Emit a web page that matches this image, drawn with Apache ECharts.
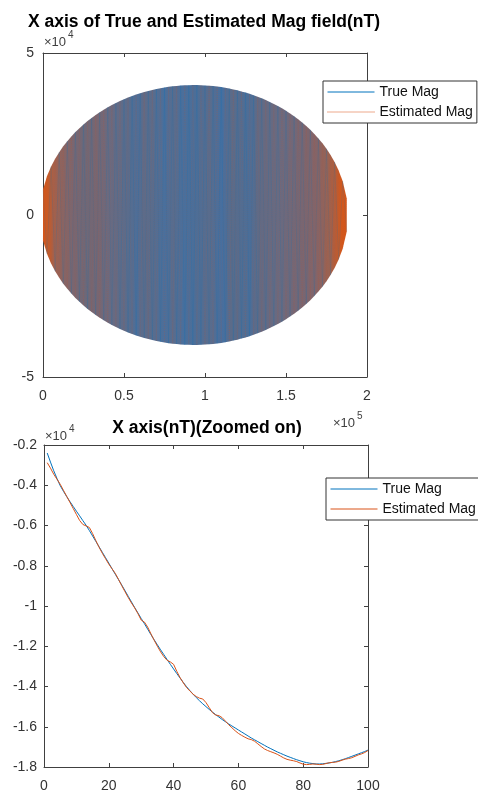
<!DOCTYPE html>
<html>
<head>
<meta charset="utf-8">
<script src="https://cdn.jsdelivr.net/npm/echarts@6/dist/echarts.min.js"></script>
<style>
  html, body { margin: 0; padding: 0; background: #ffffff; }
  #chart { width: 478px; height: 793px; }
</style>
</head>
<body>
<div id="chart"></div>
<script>
// ---- Full run: X component of the magnetic field (nT) ----
// Sample index at which the oscillation envelope was taken
const sampleIdx = [
  0, 2500, 5000, 7500, 10000, 12500, 15000, 17500, 20000, 22500,
  25000, 27500, 30000, 32500, 35000, 37500, 40000, 42500, 45000, 47500,
  50000, 52500, 55000, 57500, 60000, 62500, 65000, 67500, 70000, 72500,
  75000, 77500, 80000, 82500, 85000, 87500, 90000, 92500, 95000, 97500,
  100000, 102500, 105000, 107500, 110000, 112500, 115000, 117500, 120000, 122500,
  125000, 127500, 130000, 132500, 135000, 137500, 140000, 142500, 145000, 147500,
  150000, 152500, 155000, 157500, 160000, 162500, 165000, 167500, 170000, 172500,
  175000, 177500, 180000, 182500, 185000, 187500
];
// Peak amplitude of the X field swing at each sample (nT); the field swings +/- this value
const magEnvelope = [
  7900, 12000, 14950, 17350, 19400, 21190, 22800, 24260, 25590, 26810,
  27930, 28980, 29950, 30860, 31710, 32500, 33230, 33920, 34560, 35160,
  35720, 36240, 36720, 37160, 37570, 37950, 38300, 38610, 38890, 39140,
  39360, 39550, 39710, 39840, 39950, 40030, 40080, 40100, 40090, 40060,
  40000, 39910, 39790, 39640, 39470, 39270, 39030, 38770, 38470, 38150,
  37790, 37400, 36970, 36510, 36010, 35480, 34900, 34290, 33620, 32910,
  32160, 31340, 30470, 29540, 28530, 27450, 26280, 25010, 23630, 22110,
  20430, 18530, 16350, 13750, 10410, 5060
];

// ---- Zoomed run: first 100 samples (nT) ----
const trueMagZoom = [
  -2400, -2850, -3280, -3660, -4020, -4300, -4560, -4810, -5050, -5290,
  -5520, -5760, -5990, -6250, -6520, -6790, -7060, -7330, -7600, -7870,
  -8150, -8420, -8690, -8960, -9240, -9520, -9800, -10080, -10350, -10620,
  -10880, -11150, -11420, -11680, -11930, -12180, -12420, -12660, -12900, -13130,
  -13360, -13580, -13800, -14010, -14200, -14380, -14550, -14710, -14860, -15000,
  -15140, -15270, -15400, -15520, -15640, -15750, -15860, -15960, -16060, -16160,
  -16260, -16360, -16460, -16560, -16650, -16740, -16830, -16920, -17010, -17090,
  -17170, -17250, -17320, -17390, -17460, -17520, -17580, -17640, -17690, -17740,
  -17780, -17810, -17830, -17850, -17850, -17840, -17820, -17800, -17770, -17730,
  -17690, -17640, -17590, -17530, -17470, -17410, -17350, -17290, -17230, -17160
];
const estMagZoom = [
  -2880, -3150, -3450, -3700, -3950, -4250, -4550, -4850, -5150, -5450,
  -5750, -5950, -6020, -6100, -6400, -6750, -7080, -7380, -7650, -7920,
  -8150, -8380, -8680, -8990, -9290, -9580, -9850, -10100, -10380, -10700,
  -10800, -11050, -11380, -11700, -12000, -12280, -12520, -12700, -12780, -12900,
  -13250, -13560, -13820, -14050, -14220, -14380, -14500, -14580, -14620, -14800,
  -15050, -15300, -15420, -15450, -15550, -15720, -15900, -16050, -16200, -16330,
  -16430, -16520, -16600, -16640, -16720, -16850, -16980, -17100, -17180, -17240,
  -17300, -17370, -17460, -17550, -17620, -17660, -17690, -17730, -17800, -17860,
  -17880, -17870, -17850, -17860, -17880, -17870, -17830, -17790, -17770, -17760,
  -17720, -17660, -17610, -17580, -17540, -17470, -17400, -17350, -17280, -17180
];

const TRUE_COLOR = '#0072BD';
const EST_COLOR = '#D95319';
const FONT = '"Liberation Sans", Arial, Helvetica, sans-serif';
const AXIS_COLOR = '#404040';
const LABEL_COLOR = '#333333';

// Fast oscillation: alternate between the positive and negative peak of each envelope sample
const trueOsc = sampleIdx.map((x, i) => [x, i % 2 === 0 ? magEnvelope[i] : -magEnvelope[i]]);
const estOsc = sampleIdx.map((x, i) => [x, i % 2 === 0 ? -magEnvelope[i] : magEnvelope[i]]);
const upperBand = sampleIdx.map((x, i) => [x, magEnvelope[i]]);
const lowerBand = sampleIdx.map((x, i) => [x, -magEnvelope[i]]);
const trueZoomData = trueMagZoom.map((v, i) => [i + 1, v]);
const estZoomData = estMagZoom.map((v, i) => [i + 1, v]);

// Blended colour of the densely overlapping blue/orange traces, left to right
const bandFill = {
  type: 'linear', x: 0, y: 0, x2: 1, y2: 0,
  colorStops: [
    { offset: 0.000, color: '#d4561a' },
    { offset: 0.015, color: '#c85a25' },
    { offset: 0.035, color: '#a5604a' },
    { offset: 0.065, color: '#8a6462' },
    { offset: 0.10, color: '#7a6670' },
    { offset: 0.14, color: '#6e6878' },
    { offset: 0.18, color: '#786671' },
    { offset: 0.22, color: '#6a6a80' },
    { offset: 0.28, color: '#5a6c8c' },
    { offset: 0.31, color: '#4e6e98' },
    { offset: 0.33, color: '#5e6b88' },
    { offset: 0.36, color: '#5a6c8c' },
    { offset: 0.40, color: '#4a6f9c' },
    { offset: 0.43, color: '#5a6c8c' },
    { offset: 0.46, color: '#4a6f9c' },
    { offset: 0.50, color: '#4c6e98' },
    { offset: 0.55, color: '#5a6c8c' },
    { offset: 0.59, color: '#466fa0' },
    { offset: 0.62, color: '#5c6b88' },
    { offset: 0.68, color: '#4c6e98' },
    { offset: 0.71, color: '#626a84' },
    { offset: 0.78, color: '#6a6a80' },
    { offset: 0.85, color: '#786672' },
    { offset: 0.90, color: '#846468' },
    { offset: 0.94, color: '#9a6252' },
    { offset: 0.965, color: '#b85c36' },
    { offset: 0.98, color: '#d0581e' },
    { offset: 1.0, color: '#d4561a' }
  ]
};

function boxX(gridIndex, min, max, interval, position, fmt) {
  return {
    type: 'value', gridIndex, min, max, interval, position,
    axisLine: { show: true, onZero: false, lineStyle: { color: AXIS_COLOR, width: 1 } },
    axisTick: { show: true, inside: true, length: 4, lineStyle: { color: AXIS_COLOR } },
    axisLabel: {
      show: !!fmt, formatter: fmt, color: LABEL_COLOR, fontSize: 14, fontFamily: FONT,
      margin: 12, showMinLabel: true, showMaxLabel: true
    },
    splitLine: { show: false }
  };
}
function boxY(gridIndex, min, max, interval, position, fmt, margin) {
  return {
    type: 'value', gridIndex, min, max, interval, position,
    axisLine: { show: true, onZero: false, lineStyle: { color: AXIS_COLOR, width: 1 } },
    axisTick: { show: true, inside: true, length: 4, lineStyle: { color: AXIS_COLOR } },
    axisLabel: {
      show: !!fmt, formatter: fmt, color: LABEL_COLOR, fontSize: 14, fontFamily: FONT,
      margin: margin || 8, showMinLabel: true, showMaxLabel: true
    },
    splitLine: { show: false }
  };
}
const fmt1e4 = v => String(parseFloat((v / 1e4).toFixed(2)));
const fmt1e5 = v => String(parseFloat((v / 1e5).toFixed(2)));
const fmtPlain = v => String(v);

// Legend keys show the bare line only (no marker)
const noMarker = { color: 'rgba(0,0,0,0)', borderWidth: 0, opacity: 0 };
function legendBox(left, top, estDotted) {
  return {
    left, top, orient: 'vertical', selectedMode: false,
    padding: [4, 4, 4, 4], itemGap: 6, itemWidth: 47, itemHeight: 12,
    backgroundColor: '#ffffff', borderColor: '#333333', borderWidth: 1, borderRadius: 0,
    textStyle: { fontSize: 14, fontFamily: FONT, color: '#111111' },
    data: [
      { name: 'True Mag', itemStyle: noMarker,
        lineStyle: { color: TRUE_COLOR, width: 1, type: 'solid', opacity: 1 } },
      { name: 'Estimated Mag', itemStyle: noMarker,
        lineStyle: { color: EST_COLOR, width: 1, type: estDotted ? 'dotted' : 'solid', opacity: 1 } }
    ]
  };
}

function label(text, x, y, font, align) {
  return {
    type: 'text', x, y, z: 100,
    style: {
      text, font, fill: '#000000',
      textAlign: align || 'left', textVerticalAlign: 'middle',
      align: align || 'left', verticalAlign: 'middle'
    }
  };
}
function expLabel(exp, x, y) {
  return [
    { type: 'text', x, y, z: 100, style: { text: '×10', font: '13px ' + FONT, fill: '#404040', textAlign: 'left', textVerticalAlign: 'middle', align: 'left', verticalAlign: 'middle' } },
    { type: 'text', x: x + 24, y: y - 7, z: 100, style: { text: exp, font: '10px ' + FONT, fill: '#404040', textAlign: 'left', textVerticalAlign: 'middle', align: 'left', verticalAlign: 'middle' } }
  ];
}

const chart = echarts.init(document.getElementById('chart'), null, { renderer: 'canvas' });
chart.setOption({
  animation: false,
  backgroundColor: '#ffffff',
  grid: [
    { left: 43, top: 53, width: 324, height: 324, containLabel: false },
    { left: 44, top: 445, width: 324, height: 322, containLabel: false }
  ],
  xAxis: [
    boxX(0, 0, 200000, 50000, 'bottom', fmt1e5),
    boxX(0, 0, 200000, 50000, 'top', null),
    boxX(1, 0, 100, 20, 'bottom', fmtPlain),
    boxX(1, 0, 100, 20, 'top', null)
  ],
  yAxis: [
    boxY(0, -50000, 50000, 50000, 'left', fmt1e4, 9),
    boxY(0, -50000, 50000, 50000, 'right', null),
    boxY(1, -18000, -2000, 2000, 'left', fmt1e4, 7),
    boxY(1, -18000, -2000, 2000, 'right', null)
  ],
  legend: [legendBox(323, 81, true), legendBox(326, 478, false)],
  graphic: [
    label('X axis of True and Estimated Mag field(nT)', 204, 22, 'bold 17.5px ' + FONT, 'center'),
    label('X axis(nT)(Zoomed on)', 207, 428, 'bold 17.5px ' + FONT, 'center'),
    ...expLabel('4', 44, 42),
    ...expLabel('5', 333, 423),
    ...expLabel('4', 45, 436)
  ],
  series: [
    {
      type: 'line', xAxisIndex: 0, yAxisIndex: 0, data: upperBand, symbol: 'none', silent: true,
      lineStyle: { width: 0 }, areaStyle: { color: bandFill, opacity: 1 }, z: 1
    },
    {
      type: 'line', xAxisIndex: 0, yAxisIndex: 0, data: lowerBand, symbol: 'none', silent: true,
      lineStyle: { width: 0 }, areaStyle: { color: bandFill, opacity: 1 }, z: 1
    },
    {
      name: 'True Mag', type: 'line', xAxisIndex: 0, yAxisIndex: 0, data: trueOsc,
      symbol: 'none', silent: true, color: TRUE_COLOR,
      lineStyle: { color: TRUE_COLOR, width: 1, opacity: 0.15 }, z: 2
    },
    {
      name: 'Estimated Mag', type: 'line', xAxisIndex: 0, yAxisIndex: 0, data: estOsc,
      symbol: 'none', silent: true, color: EST_COLOR,
      lineStyle: { color: EST_COLOR, width: 1, type: 'dotted', opacity: 0.15 }, z: 3
    },
    {
      name: 'True Mag', type: 'line', xAxisIndex: 2, yAxisIndex: 2, data: trueZoomData,
      symbol: 'none', silent: true, color: TRUE_COLOR,
      lineStyle: { color: TRUE_COLOR, width: 1 }, z: 2
    },
    {
      name: 'Estimated Mag', type: 'line', xAxisIndex: 2, yAxisIndex: 2, data: estZoomData,
      symbol: 'none', silent: true, color: EST_COLOR,
      lineStyle: { color: EST_COLOR, width: 1 }, z: 3
    }
  ]
});
</script>
</body>
</html>
